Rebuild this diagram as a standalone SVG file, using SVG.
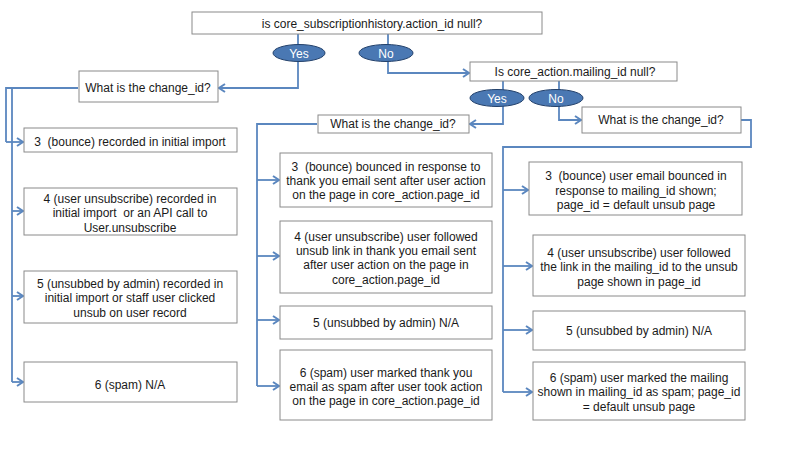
<svg xmlns="http://www.w3.org/2000/svg" width="792" height="450" viewBox="0 0 792 450">
<defs>
<marker id="arr" markerWidth="10" markerHeight="10" refX="8" refY="5" orient="auto" markerUnits="userSpaceOnUse">
<path d="M2,1 L8,5 L2,9" fill="none" stroke="#5b87bf" stroke-width="2"/>
</marker>
<style>
.box{fill:#fff;stroke:#8a8a8a;stroke-width:1}
.t{font-family:"Liberation Sans",Arial,sans-serif;font-size:12px;fill:#1a1a1a;text-anchor:middle;white-space:pre}
.tw{font-family:"Liberation Sans",Arial,sans-serif;font-size:12px;fill:#fff;text-anchor:middle}
.ell{fill:#4a78b3;stroke:#23416b;stroke-width:1}
.c{fill:none;stroke:#5b87bf;stroke-width:1.8}
.ca{fill:none;stroke:#5b87bf;stroke-width:1.8;marker-end:url(#arr)}
</style>
</defs>
<rect width="792" height="450" fill="#fff"/>
<g id="connectors">
<path class="c" d="M298,34 V45"/>
<path class="ca" d="M298,61 V88 H219"/>
<path class="c" d="M388,34 V45"/>
<path class="ca" d="M388,61 V73 H469"/>
<path class="c" d="M503,81 V90"/>
<path class="ca" d="M503,106 V124 H470"/>
<path class="c" d="M559,81 V90"/>
<path class="ca" d="M559,106 V120 H581"/>
<path class="c" d="M78,88 H6 V142"/>
<path class="ca" d="M6,142 H23"/>
<path class="c" d="M78,88 H12 V382"/>
<path class="ca" d="M12,211 H23"/>
<path class="ca" d="M12,296 H23"/>
<path class="ca" d="M12,382 H23"/>
<path class="c" d="M317,124 H257 V386"/>
<path class="ca" d="M257,180 H279"/>
<path class="ca" d="M257,256 H279"/>
<path class="ca" d="M257,320 H279"/>
<path class="ca" d="M257,386 H279"/>
<path class="c" d="M741,120 H751 V147 H503 V392"/>
<path class="ca" d="M503,190 H528"/>
<path class="ca" d="M503,266 H532"/>
<path class="ca" d="M503,330 H532"/>
<path class="ca" d="M503,392 H532"/>
</g>
<g id="q1"><rect class="box" x="192" y="12" width="350" height="22"/><text class="t" x="372" y="28" font-size="13">is core_subscriptionhistory.action_id null?</text></g>
<g id="yes1"><ellipse class="ell" cx="299" cy="53" rx="26" ry="8.5"/><text class="tw" x="299" y="57.5">Yes</text></g>
<g id="no1"><ellipse class="ell" cx="386" cy="53" rx="27" ry="8.5"/><text class="tw" x="386" y="57.5">No</text></g>
<g id="q2"><rect class="box" x="470" y="62" width="207" height="19"/><text class="t" x="575" y="76" font-size="11.7">Is core_action.mailing_id null?</text></g>
<g id="yes2"><ellipse class="ell" cx="497" cy="98" rx="27" ry="8.5"/><text class="tw" x="497" y="102.5">Yes</text></g>
<g id="no2"><ellipse class="ell" cx="556" cy="98" rx="27" ry="8.5"/><text class="tw" x="556" y="102.5">No</text></g>
<g id="cidA"><rect class="box" x="79" y="71" width="139" height="31"/><text class="t" x="148" y="92">What is the change_id?</text></g>
<g id="cidB"><rect class="box" x="318" y="115" width="151" height="18"/><text class="t" x="393" y="128">What is the change_id?</text></g>
<g id="cidC"><rect class="box" x="582" y="107" width="159" height="26"/><text class="t" x="661" y="124">What is the change_id?</text></g>
<g id="a3"><rect class="box" x="24" y="128" width="213" height="24"/><text class="t" x="130" y="146">3  (bounce) recorded in initial import</text></g>
<g id="a4"><rect class="box" x="24" y="188" width="213" height="47"/><text class="t" x="130" y="203">4 (user unsubscribe) recorded in</text><text class="t" x="130" y="217">initial import  or an API call to</text><text class="t" x="130" y="232">User.unsubscribe</text></g>
<g id="a5"><rect class="box" x="24" y="271" width="213" height="52"/><text class="t" x="130" y="288">5 (unsubbed by admin) recorded in</text><text class="t" x="130" y="302">initial import or staff user clicked</text><text class="t" x="130" y="317">unsub on user record</text></g>
<g id="a6"><rect class="box" x="24" y="362" width="213" height="40"/><text class="t" x="130" y="389">6 (spam) N/A</text></g>
<g id="b3"><rect class="box" x="280" y="153" width="212" height="54"/><text class="t" x="386" y="171">3  (bounce) bounced in response to</text><text class="t" x="386" y="185">thank you email sent after user action</text><text class="t" x="386" y="199">on the page in core_action.page_id</text></g>
<g id="b4"><rect class="box" x="280" y="221" width="212" height="72"/><text class="t" x="386" y="241">4 (user unsubscribe) user followed</text><text class="t" x="386" y="255">unsub link in thank you email sent</text><text class="t" x="386" y="269">after user action on the page in</text><text class="t" x="386" y="284">core_action.page_id</text></g>
<g id="b5"><rect class="box" x="280" y="306" width="212" height="33"/><text class="t" x="386" y="327">5 (unsubbed by admin) N/A</text></g>
<g id="b6"><rect class="box" x="280" y="350" width="212" height="70"/><text class="t" x="386" y="377">6 (spam) user marked thank you</text><text class="t" x="386" y="391">email as spam after user took action</text><text class="t" x="386" y="405">on the page in core_action.page_id</text></g>
<g id="c3"><rect class="box" x="529" y="162" width="213" height="53"/><text class="t" x="636" y="180">3  (bounce) user email bounced in</text><text class="t" x="636" y="195">response to mailing_id shown;</text><text class="t" x="636" y="209">page_id = default unsub page</text></g>
<g id="c4"><rect class="box" x="533" y="235" width="212" height="61"/><text class="t" x="639" y="257">4 (user unsubscribe) user followed</text><text class="t" x="639" y="271">the link in the mailing_id to the unsub</text><text class="t" x="639" y="286">page shown in page_id</text></g>
<g id="c5"><rect class="box" x="533" y="311" width="212" height="39"/><text class="t" x="639" y="335">5 (unsubbed by admin) N/A</text></g>
<g id="c6"><rect class="box" x="533" y="362" width="212" height="58"/><text class="t" x="639" y="382">6 (spam) user marked the mailing</text><text class="t" x="639" y="396">shown in mailing_id as spam; page_id</text><text class="t" x="639" y="411">= default unsub page</text></g>
</svg>
